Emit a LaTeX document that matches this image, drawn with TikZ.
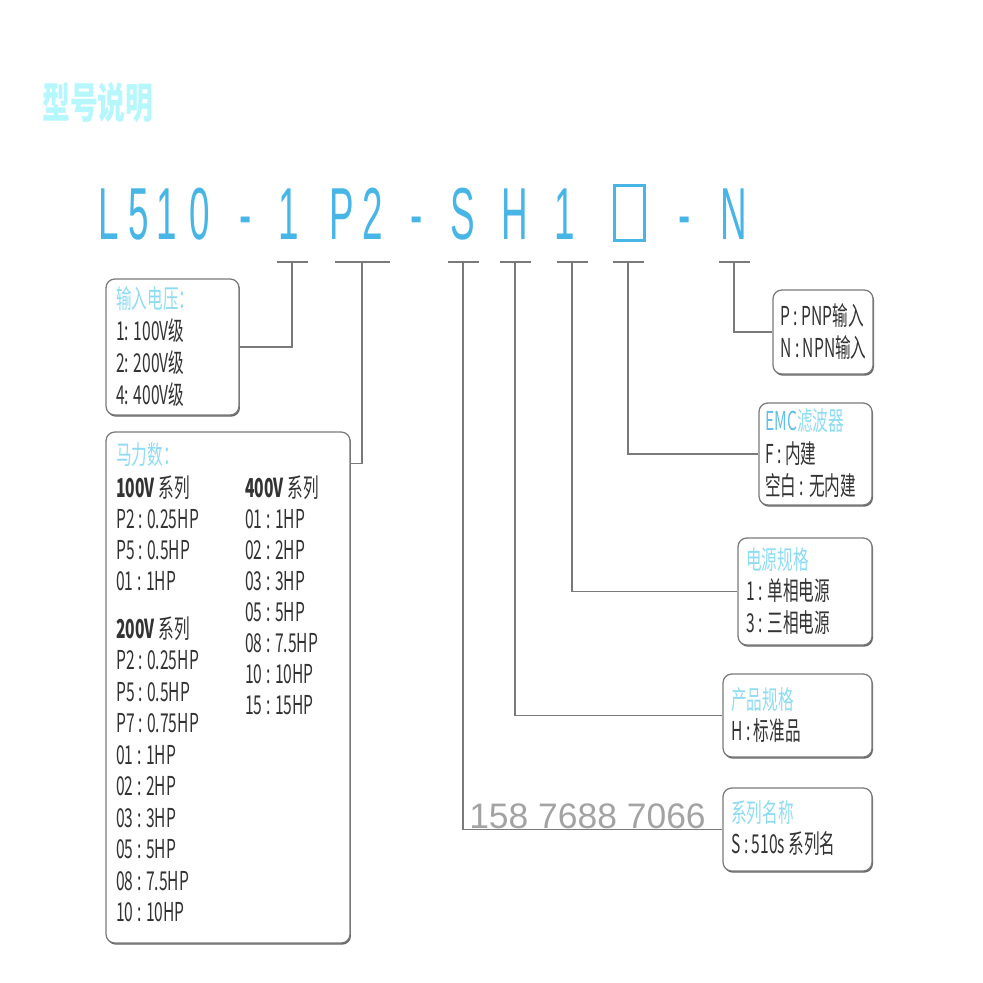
\documentclass[tikz,border=0pt]{standalone}
\usepackage{fontspec}
\setmainfont{Liberation Sans}
\newfontfamily\cjk{Noto Sans CJK SC}[FakeStretch=0.6]
\newfontfamily\titlefont{Noto Sans CJK SC}[FakeStretch=0.66]
\newfontfamily\modelfont{Liberation Sans}[FakeStretch=0.5]
\usetikzlibrary{calc,shadows}
\newcommand\pxu{0.025cm}
\definecolor{modelblue}{HTML}{47B5E6}
\definecolor{headcyan}{HTML}{8DDCF3}
\definecolor{titlecyan}{HTML}{B5F7FD}
\definecolor{txtgray}{HTML}{333333}
\definecolor{wiregray}{HTML}{7A7A7A}
\definecolor{phonegray}{HTML}{A3A3A3}
\tikzset{
  box/.style={draw=wiregray,line width=0.9pt,rounded corners=0.22cm,fill=white,inner sep=0,drop shadow={shadow xshift=0.7pt,shadow yshift=-1.2pt,fill=black!60,opacity=1}},
  tick/.style={fill=wiregray,inner sep=0,minimum height=2.2*\pxu},
  wire/.style={draw=wiregray,line width=0.9pt},
  txt/.style={anchor=west,inner sep=0,text height=14pt,text depth=4pt,text=txtgray,font=\cjk\fontsize{18.5}{20}\selectfont},
  head/.style={txt,text=headcyan},
  model/.style={anchor=base,inner sep=0,text=modelblue,font=\modelfont\fontsize{52.4}{55}\selectfont}
}
\begin{document}
\begin{tikzpicture}[x=0.025cm,y=-0.025cm]
\useasboundingbox (0,0) rectangle (983,983);

% title and model string
\node (title) at (42,103) [anchor=west,inner sep=0,text=titlecyan,font=\titlefont\bfseries\fontsize{30}{32}\selectfont] {型号说明};
\foreach \x/\c [count=\i] in {109/L,138.5/5,167/1,200/0,246/-,289/1,341.5/P,373/2,417/-,463/S,515/H,565/1,685/-,733.5/N} \node (m\i) at (\x,240) [model] {\c};
\node (sq) at (629.5,213) [draw=modelblue,line width=2.1pt,minimum width=30*\pxu,minimum height=55*\pxu,inner sep=0] {};

% ticks under the code
\node (t1) at (292,262) [tick,minimum width=31*\pxu] {}; \node (t2) at (362,262) [tick,minimum width=55*\pxu] {}; \node (t3) at (463,262) [tick,minimum width=31*\pxu] {}; \node (t4) at (515,262) [tick,minimum width=31*\pxu] {};
\node (t5) at (572,262) [tick,minimum width=31*\pxu] {}; \node (t6) at (628,262) [tick,minimum width=31*\pxu] {}; \node (t7) at (734,262) [tick,minimum width=31*\pxu] {};

% boxes
\node (V) at (172.5,347) [box,minimum width=133*\pxu,minimum height=136*\pxu] {};
\node (HP) at (228,687.5) [box,minimum width=244*\pxu,minimum height=511*\pxu] {};
\node (N) at (823,332) [box,minimum width=100*\pxu,minimum height=84*\pxu] {};
\node (E) at (815.5,454) [box,minimum width=113*\pxu,minimum height=102*\pxu] {};
\node (P) at (805,591.5) [box,minimum width=134*\pxu,minimum height=107*\pxu] {};
\node (H) at (797.5,715.5) [box,minimum width=149*\pxu,minimum height=83*\pxu] {};
\node (S) at (797.5,829.5) [box,minimum width=149*\pxu,minimum height=83*\pxu] {};

% connectors
\draw[wire] (t1.south) |- (V.east); \draw[wire] (t2.south) |- ([yshift=-32*\pxu]HP.north east);
\draw[wire] (t3.south) |- (S.west); \draw[wire] (t4.south) |- (H.west); \draw[wire] (t5.south) |- (P.west); \draw[wire] (t6.south) |- (E.west); \draw[wire] (t7.south) |- (N.west);

% texts of the boxes
\node (v0) at (116,301) [head] {输入电压：}; \node (v1) at (116,333) [txt] {1: 100V级}; \node (v2) at (116,365) [txt] {2: 200V级}; \node (v3) at (116,397) [txt] {4: 400V级};
\node (hp0) at (116,457) [head] {马力数：};
\node (hpa) at (116,490) [txt] {\bfseries 100V \mdseries 系列}; \node (hpb) at (116,631) [txt] {\bfseries 200V \mdseries 系列}; \node (hpc) at (245,490) [txt] {\bfseries 400V \mdseries 系列};
\foreach \l [count=\i] in {P2 : 0.25HP,P5 : 0.5HP,01 : 1HP} \node (hpa\i) at (116,490+31.2*\i) [txt] {\l};
\foreach \l [count=\i] in {P2 : 0.25HP,P5 : 0.5HP,P7 : 0.75HP,01 : 1HP,02 : 2HP,03 : 3HP,05 : 5HP,08 : 7.5HP,10 : 10HP} \node (hpb\i) at (116,631+31.5*\i) [txt] {\l};
\foreach \l [count=\i] in {01 : 1HP,02 : 2HP,03 : 3HP,05 : 5HP,08 : 7.5HP,10 : 10HP,15 : 15HP} \node (hpc\i) at (245,490+31.1*\i) [txt] {\l};
\node (n1) at (780,318) [txt] {P : PNP输入}; \node (n2) at (780,350) [txt] {N : NPN输入};
\node (e0) at (765,423) [head] {\textcolor{modelblue!85}{EMC}滤波器}; \node (e1) at (765,456) [txt] {F : 内建}; \node (e2) at (765,488) [txt] {空白 : 无内建};
\node (p0) at (746,562) [head] {电源规格}; \node (p1) at (746,593) [txt] {1 : 单相电源}; \node (p2) at (746,625) [txt] {3 : 三相电源};
\node (h0) at (731,702) [head] {产品规格}; \node (h1) at (731,733) [txt] {H : 标准品};
\node (s0) at (731,815) [head] {系列名称}; \node (s1) at (731,846) [txt] {S : 510s 系列名};
\node (tel) at (469,828) [anchor=base west,inner sep=0,text=phonegray,font=\fontsize{25.2}{28}\selectfont] {158 7688 7066};
\end{tikzpicture}
\end{document}
